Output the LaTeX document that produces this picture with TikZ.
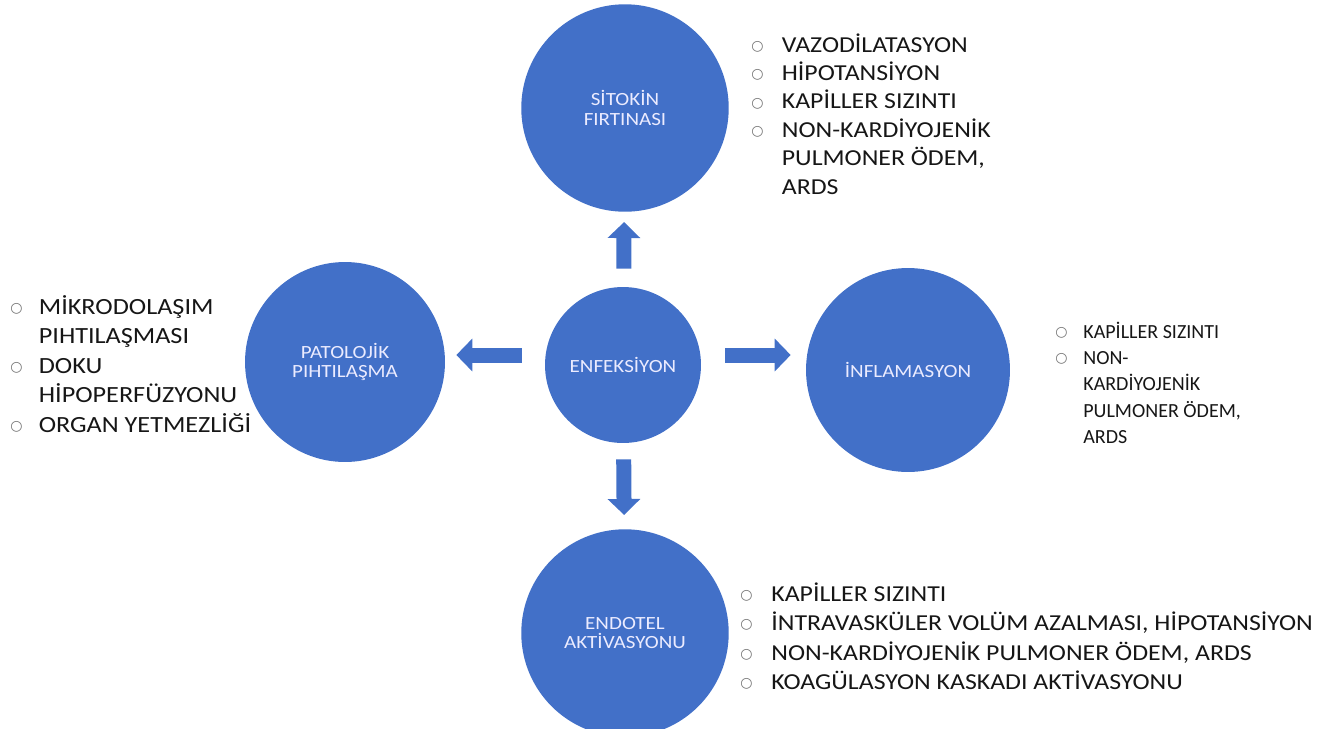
\documentclass[tikz,border=0pt]{standalone}
\usepackage{fontspec}
\setmainfont{Carlito}
\newfontfamily\widefont[FakeStretch=1.13]{Carlito}
\newfontfamily\symfont{DejaVu Sans}
\usetikzlibrary{arrows.meta}
\usetikzlibrary{calc}
\definecolor{discblue}{RGB}{66,112,200}
\definecolor{inktext}{RGB}{22,22,22}
\newlength{\bulgap}
\newcommand{\bul}{\makebox[\bulgap][l]{\raisebox{0.15ex}{\symfont\fontsize{8}{8}\selectfont\color{black!55}○}}}
\newcommand{\cont}{\hspace*{\bulgap}}

\begin{document}
\begin{tikzpicture}[x=0.02cm,y=-0.02cm,
  disc/.style={circle,fill=discblue,inner sep=0,text=white!92!blue,align=center,
    font=\widefont\fontsize{10.6}{11}\selectfont},
  fatarrow/.style={draw=discblue,line width=0.3cm,-{Triangle[width=0.64cm,length=0.32cm]}},
  itemlist/.style={inner sep=0,anchor=base west,text=inktext}]
  \useasboundingbox (0,0) rectangle (1329,728);
  \node [disc,minimum size=3.12cm] (enf) at (623,365) {ENFEKSİYON};
  \node [disc,minimum size=4.15cm] (sit) at (625,108) {SİTOKİN\\FIRTINASI};
  \node [disc,minimum size=4.0cm] (pat) at (345,362) {PATOLOJİK\\PIHTILAŞMA};
  \node [disc,minimum size=4.08cm] (inf) at (908,370) {İNFLAMASYON};
  \node [disc,minimum size=4.15cm] (end) at (625,633) {ENDOTEL\\AKTİVASYONU};
  \draw [fatarrow,shorten <=0.36cm,shorten >=0.2cm] (enf) -- (sit);
  \draw [fatarrow,shorten <=0.32cm,shorten >=0.28cm] (enf) -- (end);
  \coordinate (rgo) at ($(enf.east)+(24,-10)$);
  \coordinate (rto) at ($(inf.west |- rgo)+(-15,0)$);
  \draw [fatarrow] (rgo) -- (rto);
  \coordinate (lgo) at ($(enf.west)+(-23,-10)$);
  \coordinate (lto) at ($(pat.east |- lgo)+(11,0)$);
  \draw [fatarrow] (lgo) -- (lto);
  \node [itemlist,font=\widefont\fontsize{13}{16.2}\selectfont\setlength{\bulgap}{0.61cm}] (sitlist) at (751,52)
    {\begin{tabular}[t]{@{}l@{}}
      \bul VAZODİLATASYON\\
      \bul HİPOTANSİYON\\
      \bul KAPİLLER SIZINTI\\
      \bul NON-KARDİYOJENİK\\
      \cont PULMONER ÖDEM,\\
      \cont ARDS
    \end{tabular}};
  \node [itemlist,font=\widefont\fontsize{13.2}{16.8}\selectfont\setlength{\bulgap}{0.57cm}] (patlist) at (10,314)
    {\begin{tabular}[t]{@{}l@{}}
      \bul MİKRODOLAŞIM\\
      \cont PIHTILAŞMASI\\
      \bul DOKU\\
      \cont HİPOPERFÜZYONU\\
      \bul ORGAN YETMEZLİĞİ
    \end{tabular}};
  \node [itemlist,font=\fontsize{11.4}{15}\selectfont\setlength{\bulgap}{0.56cm}] (inflist) at (1055,338)
    {\begin{tabular}[t]{@{}l@{}}
      \bul KAPİLLER SIZINTI\\
      \bul NON-\\
      \cont KARDİYOJENİK\\
      \cont PULMONER ÖDEM,\\
      \cont ARDS
    \end{tabular}};
  \node [itemlist,font=\widefont\fontsize{13}{16.8}\selectfont\setlength{\bulgap}{0.62cm}] (endlist) at (740,601)
    {\begin{tabular}[t]{@{}l@{}}
      \bul KAPİLLER SIZINTI\\
      \bul İNTRAVASKÜLER VOLÜM AZALMASI, HİPOTANSİYON\\
      \bul NON-KARDİYOJENİK PULMONER ÖDEM, ARDS\\
      \bul KOAGÜLASYON KASKADI AKTİVASYONU
    \end{tabular}};
\end{tikzpicture}
\end{document}
